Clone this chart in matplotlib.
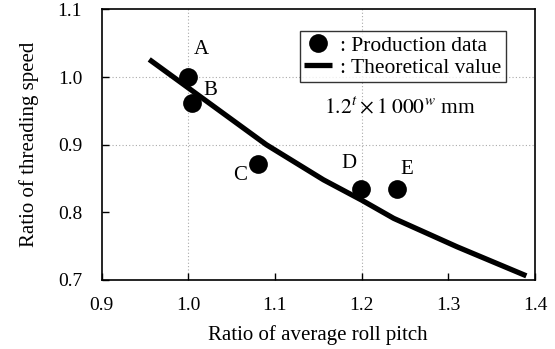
import matplotlib
matplotlib.use("Agg")
import matplotlib.pyplot as plt

plt.rcParams["font.family"] = ["Liberation Serif", "DejaVu Serif"]
plt.rcParams["mathtext.fontset"] = "stix"

# production data points
prod_x = [1.000, 1.004, 1.081, 1.199, 1.241]
prod_y = [1.000, 0.962, 0.872, 0.834, 0.834]
prod_names = ["A", "B", "C", "D", "E"]
label_x = [1.015, 1.026, 1.060, 1.185, 1.252]
label_y = [1.041, 0.980, 0.855, 0.872, 0.863]

# theoretical curve
theo_x = [0.955, 1.000, 1.090, 1.156, 1.200, 1.237, 1.310, 1.390]
theo_y = [1.026, 0.984, 0.900, 0.848, 0.818, 0.791, 0.749, 0.706]

grid_x = [1.0, 1.2]
grid_y = [0.9, 1.0]

fig = plt.figure(figsize=(5.55, 3.49), dpi=100)
ax = fig.add_axes([0.183, 0.198, 0.781, 0.775])

for gx in grid_x:
    ax.axvline(gx, color="#aaaaaa", lw=0.8, ls=(0, (1, 2)), zorder=0)
for gy in grid_y:
    ax.axhline(gy, color="#aaaaaa", lw=0.8, ls=(0, (1, 2)), zorder=0)

ax.plot(theo_x, theo_y, color="black", lw=3.8, solid_capstyle="butt",
        label=": Theoretical value", zorder=2)
ax.plot(prod_x, prod_y, "o", color="black", markersize=13.5, mew=0, ls="none",
        label=": Production data", zorder=3)

for nx, ny, name in zip(label_x, label_y, prod_names):
    ax.text(nx, ny, name, fontsize=15, ha="center", va="center")

ax.text(1.244, 0.954, r"$1.2^{t}\times 1\;000^{w}$ mm", fontsize=15.5,
        ha="center", va="center")

ax.set_xlim(0.9, 1.4)
ax.set_ylim(0.7, 1.1)
ax.set_xticks([0.9, 1.0, 1.1, 1.2, 1.3, 1.4])
ax.set_yticks([0.7, 0.8, 0.9, 1.0, 1.1])
ax.set_xticklabels(["0.9", "1.0", "1.1", "1.2", "1.3", "1.4"])
ax.set_yticklabels(["0.7", "0.8", "0.9", "1.0", "1.1"])
ax.tick_params(direction="in", length=5, width=1, labelsize=14)
ax.tick_params(axis="x", pad=12)
ax.tick_params(axis="y", pad=14)
for s in ax.spines.values():
    s.set_linewidth(1.2)

ax.set_xlabel("Ratio of average roll pitch", fontsize=15)
ax.set_ylabel("Ratio of threading speed", fontsize=15)
ax.xaxis.label.set_verticalalignment("center")
ax.yaxis.label.set_verticalalignment("center")
ax.xaxis.set_label_coords(0.5, -0.205)
ax.yaxis.set_label_coords(-0.168, 0.5)

handles, labels = ax.get_legend_handles_labels()
leg = ax.legend(handles[::-1], labels[::-1], loc="upper right",
                bbox_to_anchor=(0.933, 0.919), fontsize=15.5, frameon=True,
                fancybox=False, handlelength=1.3, handletextpad=0.4,
                borderpad=0.2, labelspacing=0.1, borderaxespad=0)
leg.get_frame().set_edgecolor("black")
leg.get_frame().set_linewidth(1.0)

fig.savefig("out.png", dpi=100)
